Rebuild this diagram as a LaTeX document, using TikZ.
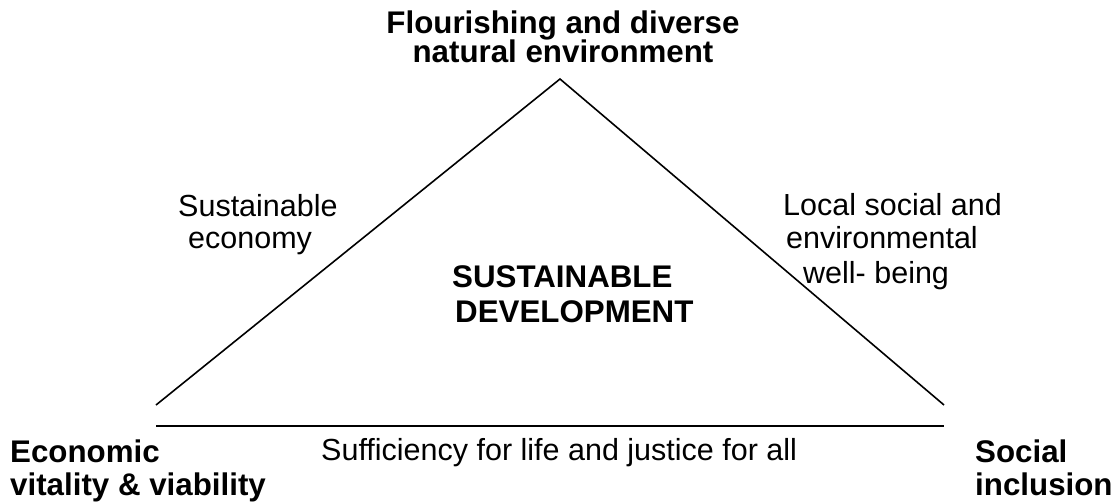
\documentclass[tikz,border=0pt]{standalone}
\usepackage{fontspec}
\setmainfont{Liberation Sans}
\begin{document}
\begin{tikzpicture}[x=1pt,y=-1pt,
  txt/.style={inner sep=0pt,anchor=base west,font=\fontsize{30.5}{32}\selectfont},
  btxt/.style={inner sep=0pt,anchor=base west,font=\fontsize{31.3}{32}\selectfont\bfseries},
  edge/.style={line width=1.6pt,black}]
\useasboundingbox (0,0) rectangle (1117,503);
% triangle
\coordinate (apex) at (560,79);
\coordinate (bl) at (156,405);
\coordinate (br) at (944,405);
\coordinate (hl) at (156,426);
\coordinate (hr) at (944,426);
\draw[edge] (bl) -- (apex) -- (br);
\draw[edge] (hl) -- (hr);
% top label
\node[btxt,anchor=base] (top1) at (563,34) {Flourishing and diverse};
\node[btxt,anchor=base] (top2) at (563,63) {natural environment};
% left side
\node[txt] (l1) at (178,216) {Sustainable};
\node[txt] (l2) at (188,248) {economy};
% right side
\node[txt] (r1) at (783,215) {Local social and};
\node[txt] (r2) at (786,248) {environmental};
\node[txt] (r3) at (803,283) {well- being};
% centre
\node[btxt] (c1) at (452,287) {SUSTAINABLE};
\node[btxt] (c2) at (455,322) {DEVELOPMENT};
% bottom
\node[txt] (b1) at (321,460) {Sufficiency for life and justice for all};
\node[btxt] (e1) at (10,462) {Economic};
\node[btxt] (e2) at (10,495) {vitality \& viability};
\node[btxt] (s1) at (975,462) {Social};
\node[btxt] (s2) at (975,495) {inclusion};
\end{tikzpicture}
\end{document}
